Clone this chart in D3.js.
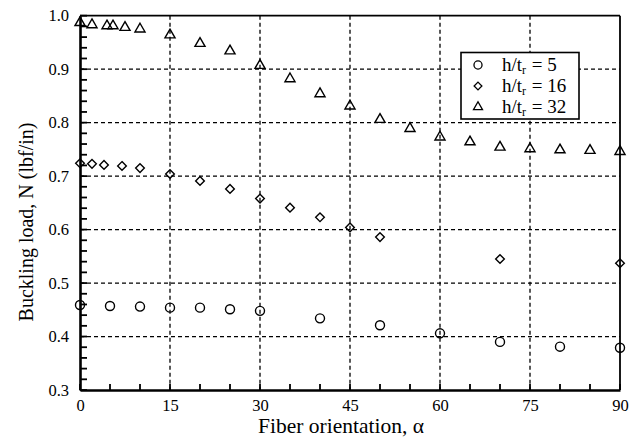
<!DOCTYPE html>
<html><head><meta charset="utf-8">
<script src="https://cdn.jsdelivr.net/npm/d3@7"></script>
<style>body{margin:0;background:#fff}svg{display:block}text{font-family:"Liberation Serif","Times New Roman",serif;fill:#000}</style>
</head><body><svg id="c" width="630" height="443"></svg>
<script>
const alpha5 = [0,5,10,15,20,25,30,40,50,60,70,80,90];
const n5 = [0.459,0.457,0.456,0.454,0.454,0.451,0.448,0.434,0.421,0.406,0.390,0.381,0.379];
const alpha16 = [0,2,4,7,10,15,20,25,30,35,40,45,50,70,90];
const n16 = [0.724,0.723,0.721,0.719,0.715,0.704,0.691,0.676,0.658,0.641,0.623,0.604,0.586,0.545,0.537];
const alpha32 = [0,2,4.5,5.5,7.5,10,15,20,25,30,35,40,45,50,55,60,65,70,75,80,85,90];
const n32 = [0.987,0.983,0.981,0.981,0.978,0.975,0.964,0.948,0.934,0.907,0.882,0.854,0.831,0.806,0.789,0.773,0.764,0.754,0.751,0.749,0.748,0.746];
const xTicks = [0,15,30,45,60,75,90];
const yTicks = [0.3,0.4,0.5,0.6,0.7,0.8,0.9,1.0];
const legendLabels = ["5","16","32"];
const xTitle = "Fiber orientation, \u03b1";
const yTitle = "Buckling load, N (lbf/in)";

const svg = d3.select("#c");
const L=80, R=620, T=15.7, B=390;
const x = d3.scaleLinear().domain([0,90]).range([L,R]);
const y = d3.scaleLinear().domain([0.3,1.0]).range([B,T]);

// gridlines
const g = svg.append("g");
g.selectAll(".vx").data(xTicks.filter(d=>d>0&&d<90)).join("line")
  .attr("x1",d=>x(d)).attr("x2",d=>x(d)).attr("y1",T).attr("y2",B)
  .attr("stroke","#000").attr("stroke-width",1.3).attr("stroke-dasharray","4,3");
g.selectAll(".hy").data(yTicks.filter(d=>d>0.31&&d<0.99)).join("line")
  .attr("x1",L).attr("x2",R).attr("y1",d=>y(d)).attr("y2",d=>y(d))
  .attr("stroke","#000").attr("stroke-width",1.3).attr("stroke-dasharray","4,3");

// frame
svg.append("line").attr("x1",L).attr("x2",R).attr("y1",T).attr("y2",T).attr("stroke","#000").attr("stroke-width",1.8);
svg.append("line").attr("x1",R).attr("x2",R).attr("y1",T).attr("y2",B).attr("stroke","#000").attr("stroke-width",1.8);

// axes
const xAxis = d3.axisBottom(x).tickValues(xTicks).tickSize(0).tickPadding(9).tickFormat(d3.format("d"));
const xa = svg.append("g").attr("transform",`translate(0,${B})`).call(xAxis);
xa.select(".domain").attr("stroke-width",2.4);
xa.selectAll("text").style("font-size","16.5px").style("font-family","Liberation Serif");
const xMinor = d3.range(0,91,5);
svg.append("g").selectAll("line").data(xMinor).join("line")
  .attr("x1",d=>x(d)).attr("x2",d=>x(d)).attr("y1",B).attr("y2",B-6)
  .attr("stroke","#000").attr("stroke-width",1.8);

const yAxis = d3.axisLeft(y).tickValues(yTicks).tickSize(0).tickPadding(11).tickFormat(d3.format(".1f"));
const ya = svg.append("g").attr("transform",`translate(${L},0)`).call(yAxis);
ya.select(".domain").attr("stroke-width",2.6);
ya.selectAll("text").style("font-size","16.5px").style("font-family","Liberation Serif");
const yMinor = d3.range(0,36).map(i=>0.3+i*0.02);
svg.append("g").selectAll("line").data(yMinor).join("line")
  .attr("x1",L).attr("x2",L+7).attr("y1",d=>y(d)).attr("y2",d=>y(d))
  .attr("stroke","#000").attr("stroke-width",1.8);

// titles
svg.append("text").attr("x",341).attr("y",433).attr("text-anchor","middle").style("font-size","21.5px").text(xTitle);
svg.append("text").attr("transform","translate(33,222) rotate(-90)").attr("text-anchor","middle").style("font-size","20px").text(yTitle);

// markers
const sym = [d3.symbolCircle, d3.symbolDiamond2, d3.symbolTriangle];
const sizes = [64, 48, 44];
const series = [[alpha5,n5],[alpha16,n16],[alpha32,n32]];
series.forEach(([xs,ys],k)=>{
  svg.append("g").selectAll("path").data(xs.map((a,i)=>[a,ys[i]])).join("path")
    .attr("transform",d=>`translate(${x(d[0])},${y(d[1])})`)
    .attr("d",d3.symbol().type(sym[k]).size(sizes[k]))
    .attr("fill","none").attr("stroke","#000").attr("stroke-width",1.4);
});

// legend
const lg = svg.append("g");
lg.append("rect").attr("x",461).attr("y",52.5).attr("width",118).attr("height",66.5)
  .attr("fill","#fff").attr("stroke","#000").attr("stroke-width",1.6);
legendLabels.forEach((lab,k)=>{
  const cy = 65 + k*21;
  lg.append("path").attr("transform",`translate(478,${cy})`)
    .attr("d",d3.symbol().type(sym[k]).size(sizes[k]*0.8))
    .attr("fill","none").attr("stroke","#000").attr("stroke-width",1.3);
  const t = lg.append("text").attr("x",502).attr("y",cy+6).style("font-size","19px");
  t.append("tspan").text("h/t");
  t.append("tspan").attr("dy",3).style("font-size","12px").text("r");
  t.append("tspan").attr("dy",-3).attr("dx",1).text(" = "+lab);
});
</script></body></html>
